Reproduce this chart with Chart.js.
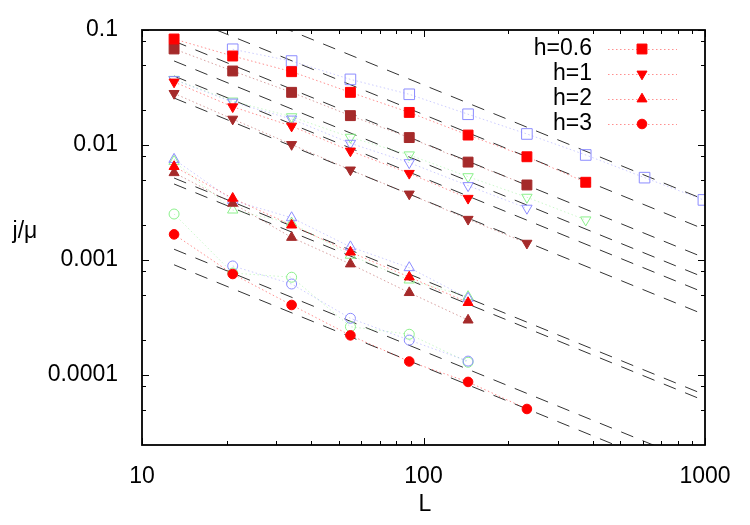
<!DOCTYPE html>
<html>
<head>
<meta charset="utf-8">
<title>j/mu vs L</title>
<script src="https://cdn.jsdelivr.net/npm/chart.js@4.4.0/dist/chart.umd.min.js"></script>
<style>
  html, body { margin: 0; padding: 0; background: #fff; }
</style>
</head>
<body>
<canvas id="chart" width="750" height="525"></canvas>
<script>
// system sizes
var L = [13, 21, 34, 55, 89, 144, 233, 377, 610, 987];

// h=0.6 (squares)
var sqRed   = [0.0835, 0.0594, 0.0434, 0.0287, 0.0192, 0.0122, 0.0079, 0.00474, null, null];
var sqBrown = [0.0684, 0.044, 0.0287, 0.018, 0.0116, 0.0071, 0.00449, null, null, null];
var sqBlue  = [null, 0.068, 0.0537, 0.0372, 0.0276, 0.0185, 0.01247, 0.00819, 0.0052, 0.00333];

// h=1 (down triangles)
var dnRed   = [0.0353, 0.0215, 0.0146, 0.00887, 0.00567, 0.00344, null, null, null, null];
var dnBrown = [0.0281, 0.0168, 0.0101, 0.00607, 0.00375, 0.00226, 0.0014, null, null, null];
var dnBlue  = [0.037, 0.0236, 0.0168, 0.01035, 0.00702, 0.00443, 0.00282, null, null, null];
var dnGreen = [0.0372, 0.0241, 0.0176, 0.01167, 0.0082, 0.0053, 0.00351, 0.00223, null, null];

// h=2 (up triangles)
var upRed   = [0.00649, 0.00344, 0.00201, 0.00117, 0.000711, 0.000426];
var upBrown = [0.00574, 0.00311, 0.00157, 0.000923, 0.00052, 0.0003];
var upBlue  = [0.0075, 0.0033, 0.00233, 0.0013, 0.000857, 0.000465];
var upGreen = [0.0072, 0.00272, 0.00209, 0.0011, 0.00067, 0.00048];

// h=3 (circles)
var ciRed   = [0.00167, 0.000755, 0.000406, 0.000221, 0.000131, 0.000087, 0.0000506];
var ciBlue  = [null, 0.000887, 0.000618, 0.000311, 0.000201, 0.000132];
var ciGreen = [0.00251, 0.00077, 0.000708, 0.000263, 0.000226, 0.000129];

// dashed guide lines: value at L=13 and at L=1000
var fitL = [13, 1000];
var fitStart = [0.256, 0.1415, 0.08, 0.0538, 0.0398, 0.0256, 0.00516, 0.00458, 0.00124, 0.000908];
var fitEnd   = [0.00333, 0.00184, 0.00104, 0.0007, 0.000517, 0.000333, 0.0000671, 0.0000595, 0.0000161, 0.0000118];

var legendLabels = ['h=0.6', 'h=1', 'h=2', 'h=3'];

var xMajor = [10, 100, 1000];
var xMinor = [20, 30, 40, 50, 60, 70, 80, 90, 200, 300, 400, 500, 600, 700, 800, 900];
var yMajor = [0.0001, 0.001, 0.01, 0.1];
var yMinor = [0.00005, 0.00008, 0.0002, 0.0005, 0.0008, 0.002, 0.005, 0.008, 0.02, 0.05, 0.08];

var RED = '#ff0000', BROWN = '#a52a2a', BLUE = '#8c8cff', GREEN = '#8cf08c';
var FONT = '"Liberation Sans", Arial, sans-serif';

function pts(vals) {
  var out = [];
  vals.forEach(function(v, i) { if (v != null) out.push({x: L[i], y: v}); });
  return out;
}

function series(vals, color, style, rot, filled, r) {
  return {
    data: pts(vals),
    borderColor: color + '70',
    borderWidth: 1,
    borderDash: [1.5, 2.5],
    tension: 0,
    pointStyle: style,
    pointRotation: rot,
    pointRadius: r,
    pointBackgroundColor: filled ? color : 'rgba(0,0,0,0)',
    pointBorderColor: color,
    pointBorderWidth: 1,
    order: 0
  };
}

var datasets = [
  series(sqRed, RED, 'rect', 0, true, 7),
  series(dnRed, RED, 'triangle', 180, true, 5.8),
  series(upRed, RED, 'triangle', 0, true, 5.8),
  series(ciRed, RED, 'circle', 0, true, 4.8),
  series(sqBrown, BROWN, 'rect', 0, true, 7),
  series(dnBrown, BROWN, 'triangle', 180, true, 5.8),
  series(upBrown, BROWN, 'triangle', 0, true, 5.8),
  series(sqBlue, BLUE, 'rect', 0, false, 7.5),
  series(dnBlue, BLUE, 'triangle', 180, false, 6),
  series(upBlue, BLUE, 'triangle', 0, false, 6),
  series(ciBlue, BLUE, 'circle', 0, false, 5),
  series(dnGreen, GREEN, 'triangle', 180, false, 6),
  series(upGreen, GREEN, 'triangle', 0, false, 6),
  series(ciGreen, GREEN, 'circle', 0, false, 5)
];

fitStart.forEach(function(v, i) {
  datasets.push({
    data: [{x: fitL[0], y: v}, {x: fitL[1], y: fitEnd[i]}],
    borderColor: '#333',
    borderWidth: 1,
    borderDash: [13, 10],
    pointRadius: 0,
    order: 1
  });
});

var legendStyles = [['rect', 0, 7], ['triangle', 180, 5.8], ['triangle', 0, 5.8], ['circle', 0, 4.8]];

var decor = {
  id: 'decor',
  afterDraw: function(chart) {
    var ctx = chart.ctx, a = chart.chartArea, xs = chart.scales.x, ys = chart.scales.y;
    ctx.save();
    ctx.strokeStyle = '#000';
    ctx.lineWidth = 1;
    ctx.beginPath();
    function xt(v, len) {
      var p = Math.round(xs.getPixelForValue(v)) + 0.5;
      ctx.moveTo(p, a.bottom); ctx.lineTo(p, a.bottom - len);
      ctx.moveTo(p, a.top); ctx.lineTo(p, a.top + len);
    }
    function yt(v, len) {
      var p = Math.round(ys.getPixelForValue(v)) + 0.5;
      ctx.moveTo(a.left, p); ctx.lineTo(a.left + len, p);
      ctx.moveTo(a.right, p); ctx.lineTo(a.right - len, p);
    }
    xMajor.forEach(function(v) { xt(v, 7); });
    xMinor.forEach(function(v) { xt(v, 4); });
    yMajor.forEach(function(v) { yt(v, 7); });
    yMinor.forEach(function(v) { yt(v, 4); });
    ctx.stroke();

    ctx.lineWidth = 1.8;
    ctx.strokeRect(a.left, a.top, a.right - a.left, a.bottom - a.top);

    // axis titles
    ctx.fillStyle = '#000';
    ctx.font = '23px ' + FONT;
    ctx.textAlign = 'center';
    ctx.textBaseline = 'middle';
    ctx.fillText('j/\u03bc', 25, 232);
    ctx.fillText('L', 425, 505);

    // legend, gnuplot style
    legendLabels.forEach(function(t, i) {
      var y = 49 + i * 25;
      ctx.fillStyle = '#000';
      ctx.textAlign = 'right';
      ctx.fillText(t, 592, y);
      ctx.strokeStyle = RED + '70';
      ctx.lineWidth = 1;
      ctx.setLineDash([1.5, 2.5]);
      ctx.beginPath();
      ctx.moveTo(608, y + 0.5); ctx.lineTo(677, y + 0.5);
      ctx.stroke();
      ctx.setLineDash([]);
      ctx.fillStyle = RED;
      ctx.strokeStyle = RED;
      Chart.helpers.drawPoint(ctx, {pointStyle: legendStyles[i][0], rotation: legendStyles[i][1], radius: legendStyles[i][2], borderWidth: 1}, 642, y);
    });
    ctx.restore();
  }
};

new Chart(document.getElementById('chart'), {
  type: 'line',
  data: { datasets: datasets },
  options: {
    responsive: false,
    animation: false,
    events: [],
    layout: { padding: { left: 0, right: 45, top: 30, bottom: 0 } },
    plugins: { legend: { display: false }, tooltip: { enabled: false } },
    scales: {
      x: {
        type: 'logarithmic',
        min: 10, max: 1000,
        grid: { display: false },
        border: { display: false },
        afterFit: function(s) { s.height = 80; },
        afterBuildTicks: function(s) { s.ticks = xMajor.map(function(v) { return {value: v}; }); },
        ticks: {
          autoSkip: false, maxRotation: 0, padding: 10, color: '#000',
          font: { family: FONT, size: 23 },
          callback: function(v) { return String(v); }
        }
      },
      y: {
        type: 'logarithmic',
        min: 0.0000246, max: 0.1,
        grid: { display: false },
        border: { display: false },
        afterFit: function(s) { s.width = 142; },
        afterBuildTicks: function(s) { s.ticks = yMajor.map(function(v) { return {value: v}; }); },
        ticks: {
          autoSkip: false, padding: 16, color: '#000',
          font: { family: FONT, size: 23 },
          callback: function(v) { return String(v); }
        }
      }
    }
  },
  plugins: [decor]
});
</script>
</body>
</html>
